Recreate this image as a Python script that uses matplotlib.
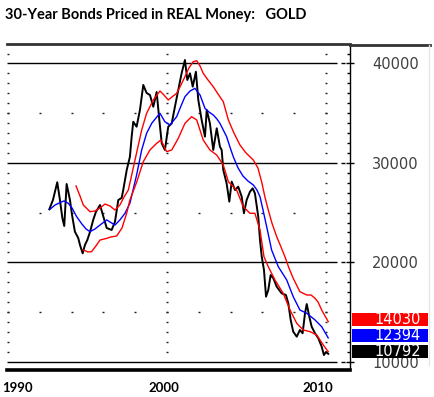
import numpy as np
import matplotlib
matplotlib.use("Agg")
import matplotlib.pyplot as plt
from matplotlib import transforms
from matplotlib.patches import Rectangle

# 30-year bond priced in gold (weekly closes)
price_years = [1992.60, 1992.83, 1993.10, 1993.27, 1993.42, 1993.54, 1993.69, 1993.90, 1994.03, 1994.21,
               1994.42, 1994.53, 1994.70, 1994.84, 1994.99, 1995.16, 1995.36, 1995.53, 1995.79, 1995.97,
               1996.21, 1996.52, 1996.73, 1996.94, 1997.15, 1997.25, 1997.47, 1997.67, 1997.78, 1997.88,
               1998.09, 1998.30, 1998.51, 1998.72, 1998.93, 1999.14, 1999.35, 1999.52, 1999.67, 1999.87,
               2000.08, 2000.30, 2000.50, 2000.71, 2000.92, 2001.13, 2001.28, 2001.45, 2001.62, 2001.82,
               2001.97, 2002.18, 2002.39, 2002.50, 2002.70, 2002.91, 2003.13, 2003.33, 2003.44, 2003.54,
               2003.75, 2003.92, 2004.07, 2004.28, 2004.48, 2004.70, 2004.84, 2005.01, 2005.22, 2005.39,
               2005.53, 2005.74, 2005.85, 2005.96, 2006.10, 2006.23, 2006.37, 2006.52, 2006.69, 2006.90,
               2007.21, 2007.48, 2007.63, 2007.78, 2007.94, 2008.16, 2008.36, 2008.53, 2008.68, 2008.79,
               2008.95, 2009.10, 2009.31, 2009.52, 2009.73, 2009.87, 2010.00, 2010.14]
price_vals = [25330, 26270, 28050, 26270, 24460, 23650, 27880, 26270, 24760, 23080,
              22440, 21740, 20900, 21740, 22240, 23050, 24260, 25060, 25760, 24760,
              23450, 23250, 24080, 26270, 26470, 27270, 29290, 30620, 32640, 34140,
              33640, 35320, 37840, 37030, 36830, 35650, 37130, 34320, 31970, 31300,
              33640, 33980, 35650, 37330, 39010, 40350, 38340, 39010, 37670, 39170,
              36330, 34320, 32640, 35320, 33980, 31300, 33480, 31630, 31300, 29290,
              27950, 26100, 28110, 27270, 27610, 26600, 24930, 26270, 27100, 27440,
              26940, 24590, 22240, 20560, 19230, 16540, 17210, 18720, 18390, 17550,
              16880, 16710, 15880, 14200, 13020, 12520, 13190, 12860, 14870, 15800,
              14530, 13520, 12860, 12350, 11510, 10670, 10980, 10792]

# moving average (blue)
ma_years = [1992.64, 1992.96, 1993.27, 1993.52, 1993.79, 1994.03, 1994.32, 1994.65, 1994.91, 1995.16,
            1995.47, 1995.79, 1996.21, 1996.42, 1996.73, 1997.04, 1997.36, 1997.67, 1998.09, 1998.41,
            1998.72, 1999.04, 1999.31, 1999.56, 1999.87, 2000.19, 2000.61, 2000.88, 2001.13, 2001.45,
            2001.76, 2002.08, 2002.39, 2002.64, 2002.91, 2003.14, 2003.33, 2003.75, 2003.96, 2004.17,
            2004.47, 2004.78, 2005.09, 2005.43, 2005.66, 2005.85, 2006.04, 2006.27, 2006.58, 2007.00,
            2007.53, 2007.94, 2008.36, 2008.79, 2009.31, 2009.73, 2010.14]
ma_vals = [25330, 25760, 26000, 26170, 25940, 25460, 24590, 23850, 23350, 23080,
           23350, 23750, 24260, 24050, 23750, 24260, 24930, 25940, 28780, 31300,
           32980, 33980, 34520, 34990, 34140, 33810, 34650, 35720, 36660, 37230,
           37500, 36830, 35490, 35120, 34820, 34420, 33980, 32640, 31600, 30620,
           29490, 28680, 28180, 27780, 27270, 26600, 25260, 23580, 21240, 19560,
           18220, 16540, 15200, 14870, 14200, 13520, 12394]

# upper envelope (red)
up_years = [1994.28, 1994.53, 1994.74, 1995.16, 1995.47, 1995.79, 1996.10, 1996.42, 1996.73, 1997.04,
            1997.30, 1997.57, 1997.74, 1997.99, 1998.41, 1998.72, 1999.14, 1999.56, 1999.81, 2000.08,
            2000.31, 2000.61, 2000.88, 2001.13, 2001.38, 2001.65, 2001.87, 2002.08, 2002.28, 2002.58,
            2002.91, 2003.21, 2003.54, 2003.86, 2004.21, 2004.59, 2004.97, 2005.43, 2005.72, 2005.96,
            2006.16, 2006.37, 2006.60, 2006.90, 2007.17, 2007.42, 2007.67, 2007.94, 2008.36, 2008.79,
            2009.06, 2009.31, 2009.50, 2009.73, 2010.14]
up_vals = [27680, 26670, 25760, 25090, 25160, 25460, 25860, 25660, 25260, 25760,
           26570, 27270, 28480, 30290, 33310, 34990, 36330, 37230, 36830, 36330,
           36630, 37000, 37840, 38670, 39550, 40180, 40280, 39750, 39010, 38340,
           37670, 36930, 36160, 34320, 33010, 31800, 31000, 30290, 29490, 28050,
           26570, 25260, 23950, 22580, 21540, 20560, 19430, 18390, 17040, 16710,
           16710, 16380, 16010, 15200, 14030]

# lower envelope (red)
lo_years = [1994.74, 1995.03, 1995.26, 1995.53, 1995.79, 1996.21, 1996.48, 1996.84, 1997.17, 1997.47,
            1997.67, 1998.09, 1998.51, 1998.93, 1999.35, 1999.62, 1999.98, 2000.30, 2000.71, 2001.13,
            2001.55, 2001.87, 2002.28, 2002.70, 2003.13, 2003.54, 2003.86, 2004.38, 2004.80, 2005.22,
            2005.53, 2005.85, 2006.10, 2006.37, 2006.79, 2007.31, 2007.74, 2008.16, 2008.57, 2009.00,
            2009.42, 2009.83, 2010.14]
lo_vals = [21240, 21040, 21070, 21640, 22240, 22410, 22550, 22650, 23450, 24960,
           26270, 28050, 30120, 31300, 31970, 32300, 31130, 31300, 32470, 33980,
           34650, 34320, 32300, 31300, 30790, 29790, 28110, 27270, 25590, 24930,
           24930, 23250, 20560, 19560, 18220, 16880, 15200, 13860, 13190, 13020,
           12690, 11680, 11010]

last_vals = [14030, 12394, 10792]
last_colors = ["#ff0000", "#0000ff", "#000000"]
axis_labels = [10000, 20000, 30000, 40000]
year_labels = ["1990", "2000", "2010"]

title = "30-Year Bonds Priced in REAL Money:   GOLD"

W, H = 435, 397
fig = plt.figure(figsize=(W / 100, H / 100), dpi=100)
ax = fig.add_axes([7 / W, 1 - 370 / H, 343 / W, 326 / H])
ax.set_xlim(1989.94, 2011.51)
ax.set_ylim(9165, 41960)

ax.spines["left"].set_visible(False)
ax.spines["top"].set_linewidth(2)
ax.spines["top"].set_color("#333333")
ax.spines["bottom"].set_linewidth(2.6)
ax.spines["bottom"].set_color("#000000")
ax.spines["right"].set_linewidth(1)

ax.set_xticks([])
ax.yaxis.tick_right()
ax.set_yticks(axis_labels)
ax.set_yticklabels([str(v) for v in axis_labels], family="DejaVu Sans")
ax.set_yticks(np.arange(10000, 42000, 1000), minor=True)
ax.tick_params(axis="y", which="major", direction="inout", length=6, width=1, pad=13,
               labelsize=10.5, labelcolor="#404040")
ax.tick_params(axis="y", which="minor", direction="in", length=2, width=1)

# reference lines and little dashes beside the spine
ax.hlines(axis_labels, 0, 0.962, transform=ax.get_yaxis_transform(), color="black", lw=1)
ax.plot([0.98] * len(axis_labels), axis_labels, ls="none", marker="_", ms=3, mew=1,
        color="black", transform=ax.get_yaxis_transform())

# dotted grid
dot_kw = dict(ls="none", marker="_", ms=2, mew=1, color="#222222")
grid_y = [v for v in range(10000, 42000, 1000) if v % 10000]
for gx in [1990, 2000, 2010]:
    ax.plot([gx] * len(grid_y), grid_y, **dot_kw)
for gy in [15000, 25000, 35000]:
    xs = list(range(1990, 2011, 2))
    ax.plot(xs, [gy] * len(xs), **dot_kw)

ax.plot(price_years, price_vals, color="black", lw=1.4, zorder=3)
ax.plot(ma_years, ma_vals, color="#0000ff", lw=1.0, zorder=4)
ax.plot(up_years, up_vals, color="#ff0000", lw=1.0, zorder=5)
ax.plot(lo_years, lo_vals, color="#ff0000", lw=1.0, zorder=5)

# last-value boxes on the right panel
trans = transforms.blended_transform_factory(fig.transFigure, ax.transData)
for v, c in zip(last_vals, last_colors):
    ax.add_patch(Rectangle((352 / W, v - 400), 76 / W, 1300, transform=trans,
                           facecolor=c, edgecolor="none", clip_on=False, zorder=10))
    ax.text(374 / W, v + 250, str(v), transform=trans, color="white", fontsize=10.5,
            family="DejaVu Sans", va="center", ha="left", zorder=11, clip_on=False)

# right panel frame
fig.add_artist(plt.Line2D([350 / W, 430 / W], [1 - 45 / H] * 2, color="#333333", lw=2))
fig.add_artist(plt.Line2D([429 / W] * 2, [1 - 45 / H, 1 - 365 / H], color="#e6e6e6", lw=1))

fig.text(5 / W, 1 - 15 / H, title, fontsize=10.5, fontweight="bold", family="Lato",
         va="center", ha="left")
for lab, cx in zip(year_labels, [18, 164, 318]):
    fig.text(cx / W, 1 - 388 / H, lab, fontsize=9.5, fontweight="bold", family="Lato",
             va="center", ha="center")

fig.savefig("out.png", dpi=100)
